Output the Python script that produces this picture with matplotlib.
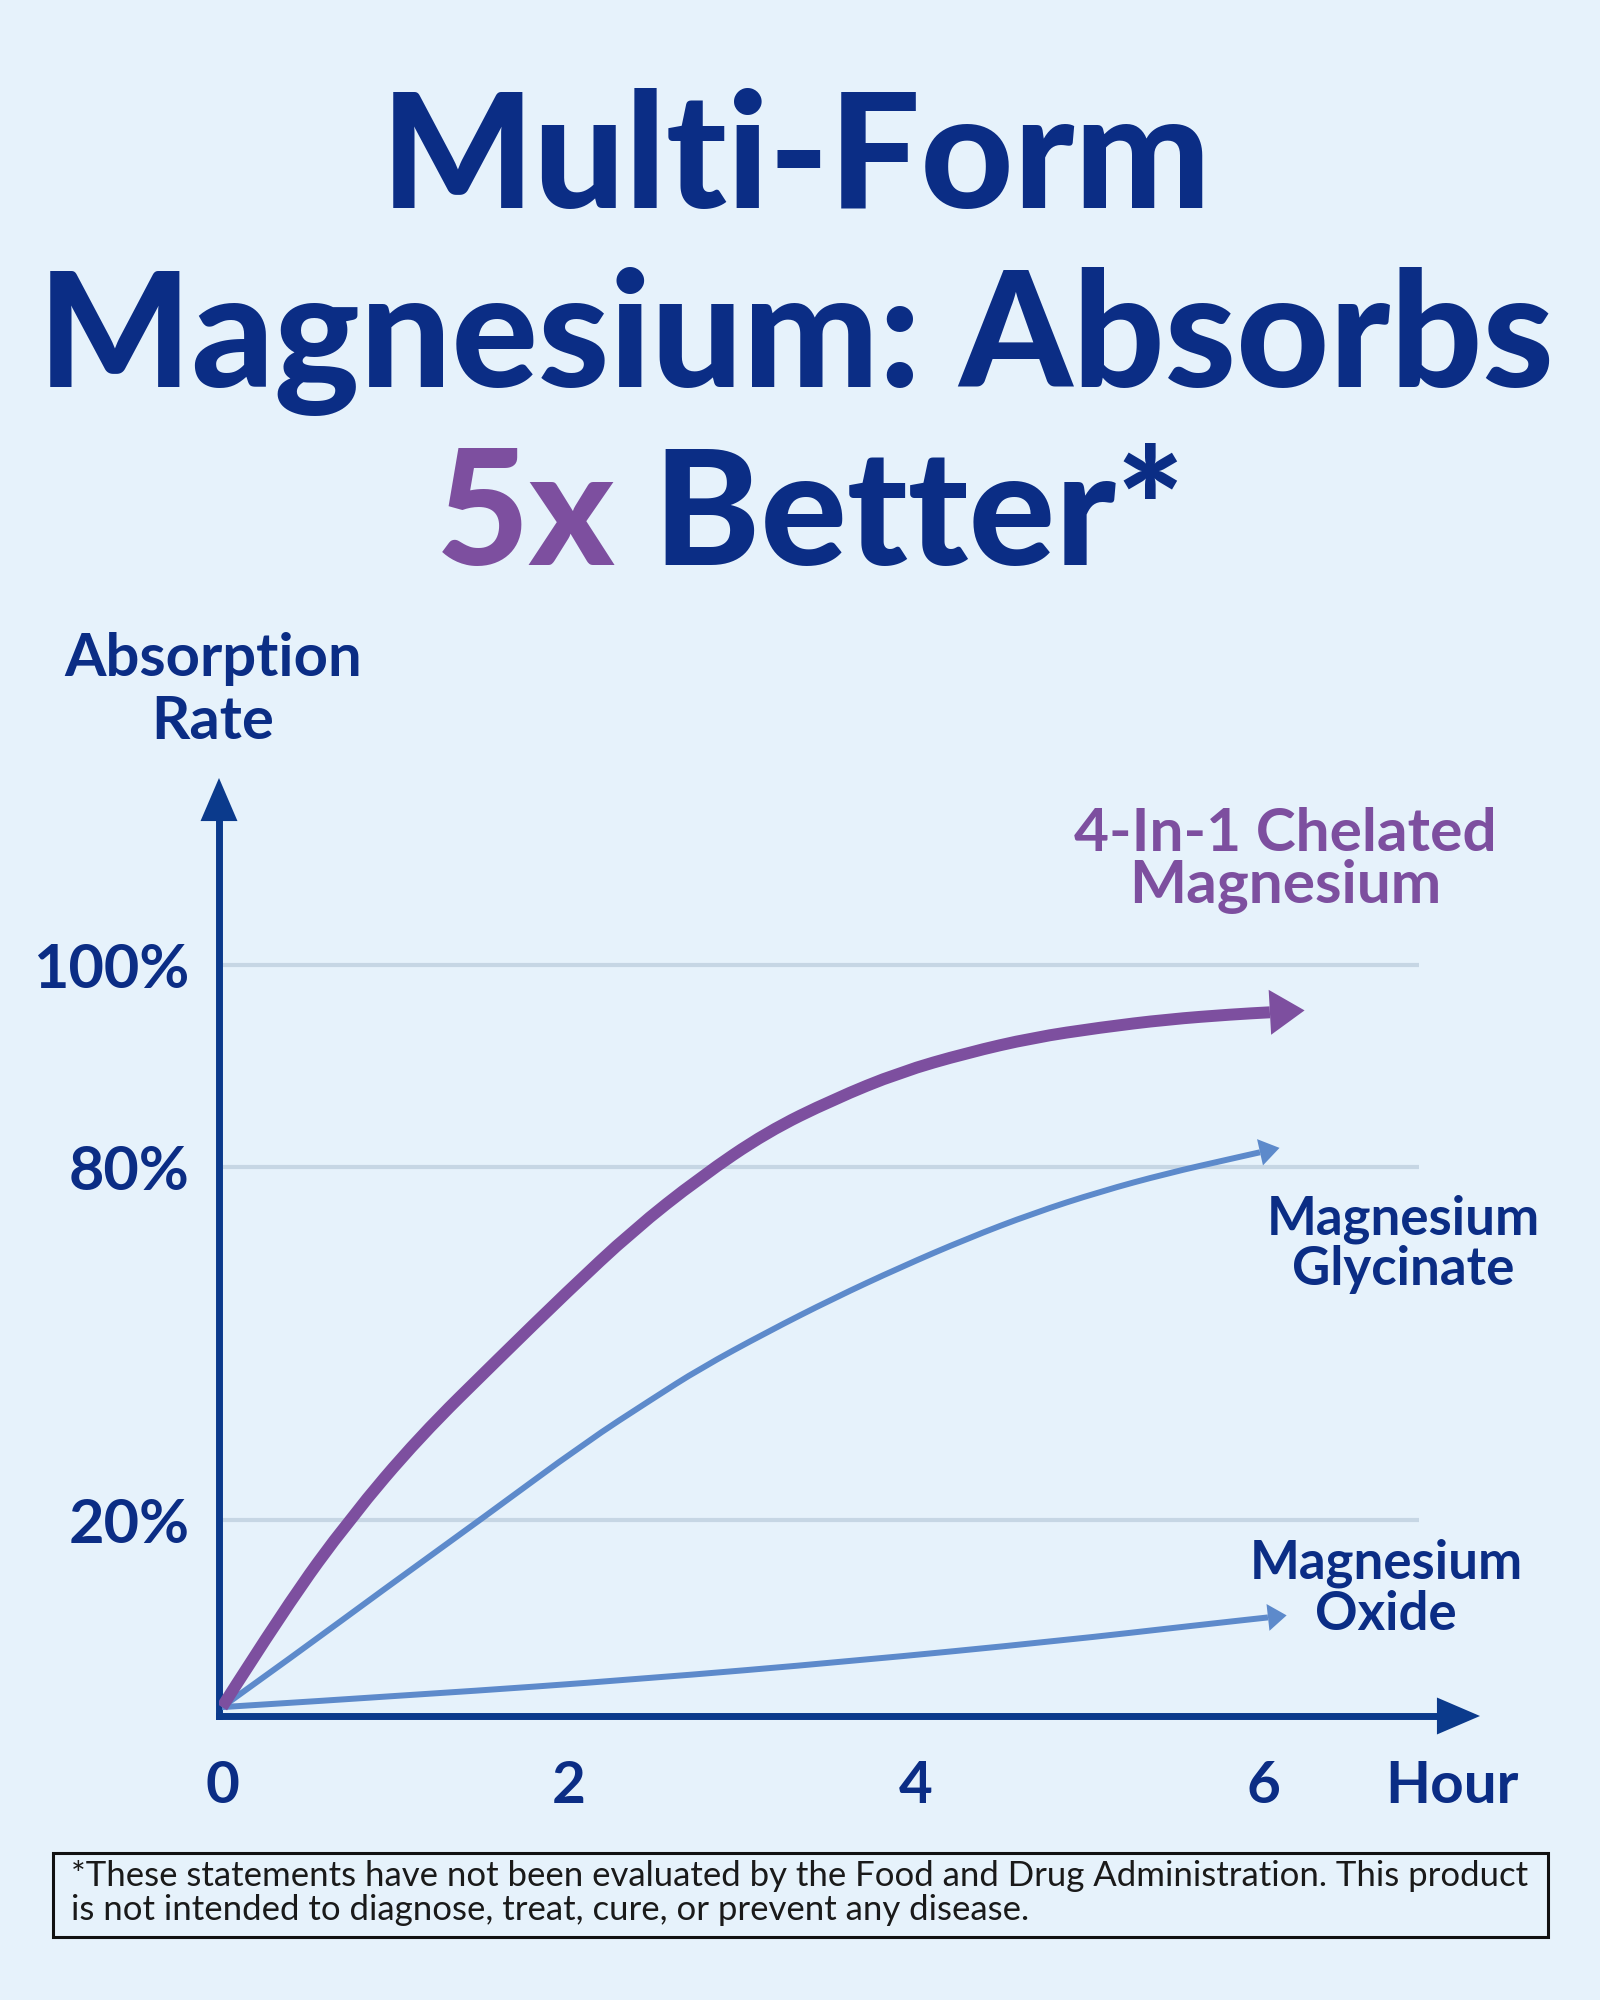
#Recreating the "Multi-Form Magnesium" absorption chart with matplotlib
import matplotlib.pyplot as plt
import numpy as np
from matplotlib.patches import Rectangle, PathPatch
from matplotlib.path import Path

#Readings taken off the chart: hours against absorption rate (%)
chelated_hours = [0, 0.369, 0.738, 1.135, 1.602, 1.988, 2.369, 2.755, 3.141, 3.522, 3.908,
                  4.294, 4.674, 5.061, 5.447, 5.827, 6.040]
chelated_rate = [0, 10.8, 20.3, 34.1, 47.7, 58.8, 69.3, 78.3, 83.5, 86.7, 89.4,
                 91.3, 92.8, 93.8, 94.6, 95.1, 95.3]
glycinate_hours = [0, 0.450, 0.911, 1.499, 2.098, 2.478, 2.755, 3.141, 3.522, 3.908, 4.294,
                   4.674, 5.061, 5.447, 5.827, 5.983]
glycinate_rate = [0, 6.0, 12.3, 20.3, 33.3, 40.6, 45.8, 52.0, 57.7, 63.0, 67.9,
                  72.2, 75.9, 79.0, 80.9, 81.5]
oxide_hours = [0, 1.199, 2.409, 3.620, 4.830, 5.637, 6.029]
oxide_rate = [0, 1.4, 3.0, 4.9, 7.1, 8.8, 9.6]

y_ticks = [20, 80, 100]
y_tick_labels = ['20%', '80%', '100%']
x_ticks = [0, 2, 4, 6]
x_tick_labels = ['0', '2', '4', '6']

#The y axis of the original is not linear (0-20 and 80-100 are stretched)
scale_pct = [-10, 0, 20, 80, 100, 200]
scale_px = [-93.5, 0, 187, 540, 743, 1758]

def forward(v):
    return np.interp(v, scale_pct, scale_px)

def inverse(p):
    return np.interp(p, scale_px, scale_pct)

bg = '#E6F2FB'
navy = '#0B2D85'
purple = '#7D4F9F'
blue = '#5D8ACB'
axis_col = '#0B3A8C'
grid_col = '#C6D6E4'

plt.rcParams['font.family'] = ['Lato', 'DejaVu Sans']
plt.rcParams['font.weight'] = 'bold'

W, H = 1600, 2000
fig = plt.figure(figsize=(16, 20), dpi=100, facecolor=bg)
renderer = fig.canvas.get_renderer()

def px(x, y):
    #pixel position (top-left origin) -> figure fraction
    return x / W, 1 - y / H

ax = fig.add_axes([219 / W, 1 - 1716 / H, (1480 - 219) / W, (1716 - 778) / H])
ax.set_facecolor('none')
ax.set_yscale('function', functions=(forward, inverse))
ax.set_xlim(-0.0173, 7.251)
ax.set_ylim(-0.95, 118.4)
for s in ax.spines.values():
    s.set_visible(False)

#gridlines
ax.hlines(y_ticks, 0, 6.9, color=grid_col, lw=3, zorder=1)

#axis lines with arrow heads
ax.plot([0, 0], [0, 0.96], transform=ax.transAxes, color=axis_col, lw=5,
        solid_capstyle='projecting', clip_on=False, zorder=3)
ax.plot([0, 0.975], [0, 0], transform=ax.transAxes, color=axis_col, lw=5,
        solid_capstyle='projecting', clip_on=False, zorder=3)
head = dict(arrowstyle='-|>,head_length=31,head_width=13.3', mutation_scale=1, lw=0,
            color=axis_col, shrinkA=0, shrinkB=0)
ax.annotate('', xy=(0, 1), xytext=(0, 0.9), xycoords='axes fraction', arrowprops=head,
            annotation_clip=False, zorder=3)
ax.annotate('', xy=(1, 0), xytext=(0.9, 0), xycoords='axes fraction', arrowprops=head,
            annotation_clip=False, zorder=3)

def smooth_line(hours, rate, color, lw, z):
    #quadratic curve through the midpoints, so the line bends smoothly like the original.
    #midpoints are taken on screen so the bent y scale does not put kinks in the curve
    pts = np.column_stack([hours, rate])
    disp = ax.transData.transform(pts)
    mids = ax.transData.inverted().transform((disp[1:] + disp[:-1]) / 2)
    verts, codes = [pts[0]], [Path.MOVETO]
    for i in range(1, len(pts) - 1):
        verts += [pts[i], mids[i]]
        codes += [Path.CURVE3, Path.CURVE3]
    verts.append(pts[-1])
    codes.append(Path.LINETO)
    ax.add_patch(PathPatch(Path(verts, codes), fill=False, edgecolor=color, lw=lw,
                           capstyle='butt', joinstyle='round', zorder=z))

def add_head(hours, rate, color, length, half_width, z):
    #push the tip out along the last segment by the head length
    p = ax.transData.transform(np.column_stack([hours[-2:], rate[-2:]]))
    d = (p[1] - p[0]) / np.hypot(*(p[1] - p[0]))
    tip = p[1] + d * length / 72 * fig.dpi
    tip = ax.transData.inverted().transform(tip)
    ax.annotate('', xy=tip, xytext=(hours[-1], rate[-1]),
                arrowprops=dict(arrowstyle='-|>,head_length=%s,head_width=%s' % (length, half_width),
                                mutation_scale=1, lw=0, color=color, shrinkA=0, shrinkB=0),
                annotation_clip=False, zorder=z)

smooth_line(oxide_hours, oxide_rate, blue, 4.3, 4)
add_head(oxide_hours, oxide_rate, blue, 13.5, 9.7, 4)
smooth_line(glycinate_hours, glycinate_rate, blue, 4.3, 4)
add_head(glycinate_hours, glycinate_rate, blue, 14.4, 9.7, 4)
smooth_line(chelated_hours, chelated_rate, purple, 8.6, 5)
add_head(chelated_hours, chelated_rate, purple, 25, 16.2, 5)

#ticks
ax.set_yticks(y_ticks, y_tick_labels)
ax.set_xticks(x_ticks, x_tick_labels)
ax.tick_params(axis='y', length=0, pad=21, labelsize=44, labelcolor=navy)
ax.tick_params(axis='x', length=0, pad=32, labelsize=42, labelcolor=navy)
ax.minorticks_off()
ax.set_xlabel('Hour', fontsize=42, fontweight='bold', color=navy, va='top', ha='center')
ax.xaxis.set_label_coords((1452 - 219) / (1480 - 219), -32 / 72 * 100 / 938)

#axis title
fig.text(*px(213, 676), 'Absorption', ha='center', va='baseline', fontsize=43, color=navy)
fig.text(*px(213, 739), 'Rate', ha='center', va='baseline', fontsize=43, color=navy)

#series labels
fig.text(*px(1285, 851), '4-In-1 Chelated', ha='center', va='baseline', fontsize=43.5, color=purple)
fig.text(*px(1285, 903), 'Magnesium', ha='center', va='baseline', fontsize=43.5, color=purple)
fig.text(*px(1403, 1235), 'Magnesium', ha='center', va='baseline', fontsize=38, color=navy)
fig.text(*px(1403, 1285), 'Glycinate', ha='center', va='baseline', fontsize=38, color=navy)
fig.text(*px(1386, 1579), 'Magnesium', ha='center', va='baseline', fontsize=38, color=navy)
fig.text(*px(1386, 1630), 'Oxide', ha='center', va='baseline', fontsize=38, color=navy)

#title: size it so the long line spans the same width as the original
title_kw = dict(va='baseline', fontweight='black')
line2 = fig.text(*px(796, 387), 'Magnesium: Absorbs', ha='center', fontsize=100, color=navy, **title_kw)
title_size = 100 * 1515 / line2.get_window_extent(renderer).width
line2.set_fontsize(title_size)
fig.text(*px(796, 208), 'Multi-Form', ha='center', fontsize=title_size, color=navy, **title_kw)
part1 = fig.text(0, 0, '5x', fontsize=title_size, color=purple, **title_kw)
part2 = fig.text(0, 0, ' Better*', fontsize=title_size, color=navy, **title_kw)
w1 = part1.get_window_extent(renderer).width
w2 = part2.get_window_extent(renderer).width
left = 810 - (w1 + w2) / 2
part1.set_position(px(left, 565))
part2.set_position(px(left + w1, 565))

#disclaimer box
fig.add_artist(Rectangle(px(53, 1937), (1548 - 53) / W, (1937 - 1853) / H, transform=fig.transFigure,
                         fill=False, edgecolor='#111111', lw=2.2))
fig.text(*px(71, 1886), '*These statements have not been evaluated by the Food and Drug Administration. This product',
         va='baseline', fontsize=25, fontweight='normal', color='#1a1a1a')
fig.text(*px(71, 1920), 'is not intended to diagnose, treat, cure, or prevent any disease.',
         va='baseline', fontsize=25, fontweight='normal', color='#1a1a1a')

fig.savefig('out.png', dpi=100, facecolor=bg)
